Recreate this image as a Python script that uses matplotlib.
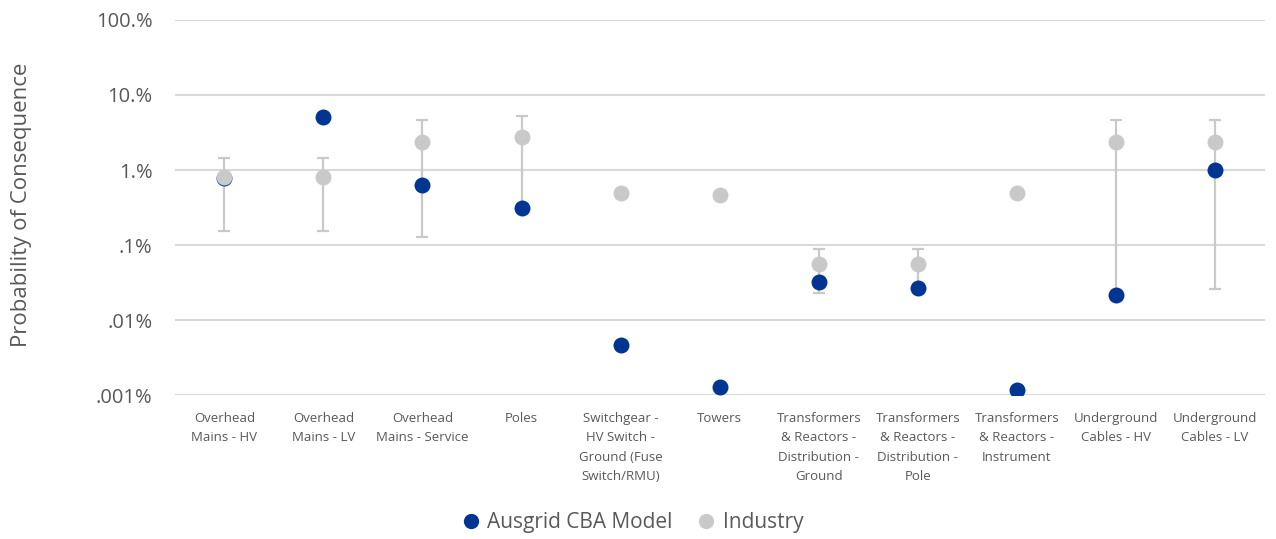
import matplotlib
matplotlib.use("Agg")
import matplotlib.pyplot as plt
import numpy as np
from matplotlib.lines import Line2D

plt.rcParams['font.family'] = ['Open Sans', 'DejaVu Sans']

categories = [
    "Overhead\nMains - HV", "Overhead\nMains - LV", "Overhead\nMains - Service",
    "Poles", "Switchgear -\nHV Switch -\nGround (Fuse\nSwitch/RMU)", "Towers",
    "Transformers\n& Reactors -\nDistribution -\nGround",
    "Transformers\n& Reactors -\nDistribution -\nPole",
    "Transformers\n& Reactors -\nInstrument",
    "Underground\nCables - HV", "Underground\nCables - LV",
]
# values in percent
ausgrid = [0.78, 5.1, 0.63, 0.31, 0.0046, 0.00128, 0.032, 0.0267, 0.00117, 0.0216, 1.0]
industry = [0.81, 0.81, 2.36, 2.75, 0.49, 0.46, 0.056, 0.056, 0.49, 2.36, 2.36]
ind_low = [0.154, 0.154, 0.129, 0.31, None, None, 0.0227, 0.027, None, 0.0216, 0.0259]
ind_high = [1.45, 1.45, 4.6, 5.3, None, None, 0.0885, 0.0885, None, 4.7, 4.7]
yticks = [0.001, 0.01, 0.1, 1, 10, 100]
ytick_labels = [".001%", ".01%", ".1%", "1.%", "10.%", "100.%"]

blue = "#003591"
grey = "#C9C9C9"
text_c = "#595959"

fig = plt.figure(figsize=(12.76, 5.39), dpi=100)
ax = fig.add_axes([0.137, 0.267, 0.854, 0.696])

x = np.arange(len(categories))

# error bars for industry range
idx = [i for i in range(len(categories)) if ind_low[i] is not None]
ey = np.array([industry[i] for i in idx])
lo = ey - np.array([ind_low[i] for i in idx])
hi = np.array([ind_high[i] for i in idx]) - ey
ax.errorbar(idx, ey, yerr=[lo, hi], fmt='none', ecolor=grey, elinewidth=1.6,
            capsize=4.3, capthick=1.6, zorder=2)

ax.plot(x, ausgrid, 'o', color=blue, ms=11.5, mew=0, zorder=3)
ax.plot(x, industry, 'o', color=grey, ms=11.5, mew=0, zorder=4)

ax.set_yscale('log')
ax.set_ylim(0.001, 100)
ax.set_xlim(-0.5, len(categories) - 0.5)
ax.set_yticks(yticks)
ax.set_yticklabels(ytick_labels)
ax.minorticks_off()
ax.yaxis.grid(True, color="#D9D9D9", lw=1.5)
ax.set_axisbelow(True)
for s in ax.spines.values():
    s.set_visible(False)
ax.tick_params(axis='y', length=0, labelsize=14.5, labelcolor=text_c, pad=16)
ax.tick_params(axis='x', length=0, labelsize=9.5, labelcolor=text_c, pad=12)
ax.set_xticks(x)
ax.set_xticklabels(categories, linespacing=1.65, va='top')
ax.set_ylabel("Probability of Consequence", fontsize=16, color=text_c)
ax.yaxis.set_label_coords(-0.131, 0.507)

handles = [
    Line2D([], [], marker='o', ls='none', color=blue, ms=11, mew=0),
    Line2D([], [], marker='o', ls='none', color=grey, ms=11, mew=0),
]
fig.legend(handles, ["Ausgrid CBA Model", "Industry"], loc='center',
           bbox_to_anchor=(0.491, 0.03), ncol=2, frameon=False, fontsize=15,
           labelcolor=text_c, handletextpad=-0.2, columnspacing=0.6)

fig.savefig("out.png", dpi=100)
